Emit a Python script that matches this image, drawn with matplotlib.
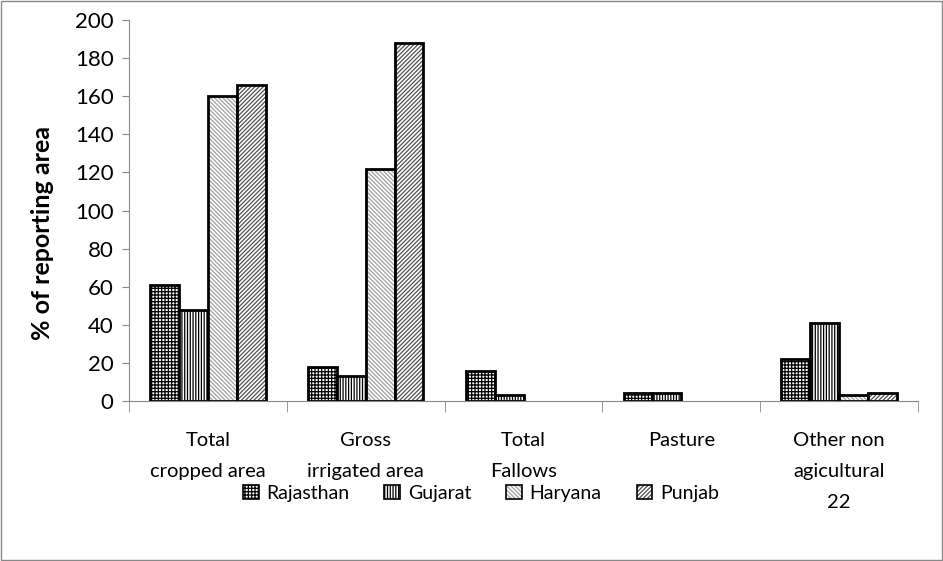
import numpy as np
import matplotlib.pyplot as plt
from matplotlib.patches import Patch
from matplotlib.legend_handler import HandlerTuple

plt.rcParams['font.family'] = ['Lato', 'DejaVu Sans']
plt.rcParams['hatch.linewidth'] = 0.9

categories = ["Total\ncropped area", "Gross\nirrigated area", "Total\nFallows",
              "Pasture", "Other non\nagicultural\n22"]
states = ["Rajasthan", "Gujarat", "Haryana", "Punjab"]
rajasthan = [61, 18, 16, 4, 22]
gujarat = [48, 13, 3, 4, 41]
haryana = [160, 122, 0, 0, 3]
punjab = [166, 188, 0, 0, 4]
values = [rajasthan, gujarat, haryana, punjab]

hatches = ['+++++', '||||||', '\\\\\\\\\\\\\\\\', '////////']
hatch_cols = ['black', 'black', '#a0a0a0', '#505050']

fig = plt.figure(figsize=(9.43, 5.61), dpi=100)
ax = fig.add_axes([0.1368, 0.2852, 0.8367, 0.6791])

x = np.arange(len(categories))
w = 0.183
handles = []
for i, (name, vals) in enumerate(zip(states, values)):
    pos = x + (i - 1.5) * w
    vals = np.array(vals, dtype=float)
    keep = vals > 0
    ax.bar(pos[keep], vals[keep], w, color='white', edgecolor=hatch_cols[i],
           hatch=hatches[i], linewidth=0)
    ax.bar(pos[keep], vals[keep], w, fill=False, edgecolor='black', linewidth=2)
    handles.append((Patch(facecolor='white', edgecolor=hatch_cols[i], hatch=hatches[i], linewidth=0),
                    Patch(fill=False, edgecolor='black', linewidth=1.2)))

ax.set_xlim(-0.5, len(categories) - 0.5)
ax.set_ylim(0, 200)
ax.set_yticks(range(0, 201, 20))
ax.set_xticks(x)
ax.set_xticklabels(categories, fontsize=14.5, linespacing=2.0)
ax.set_xticks(np.arange(len(categories) + 1) - 0.5, minor=True)
ax.tick_params(axis='x', which='major', length=0, pad=22)
ax.tick_params(axis='x', which='minor', length=8, color='#888888', direction='out')
ax.tick_params(axis='y', labelsize=16, length=5, color='#888888', pad=6)
for s in ['top', 'right']:
    ax.spines[s].set_visible(False)
for s in ['left', 'bottom']:
    ax.spines[s].set_color('#888888')
ax.set_ylabel('% of reporting area', fontsize=18, fontweight='bold')
ax.yaxis.set_label_coords(-0.095, 0.44)

fig.legend(handles, states, handler_map={tuple: HandlerTuple(ndivide=1)},
           loc='center', bbox_to_anchor=(0.51, 0.121), ncol=4, frameon=False,
           fontsize=14, handlelength=0.8, handleheight=0.8, handletextpad=0.4,
           columnspacing=1.8)

fig.patches.append(plt.Rectangle((0.001, 0.001), 0.998, 0.998, transform=fig.transFigure,
                                 fill=False, edgecolor='#888888', linewidth=1))

fig.savefig('out.png', dpi=100)
